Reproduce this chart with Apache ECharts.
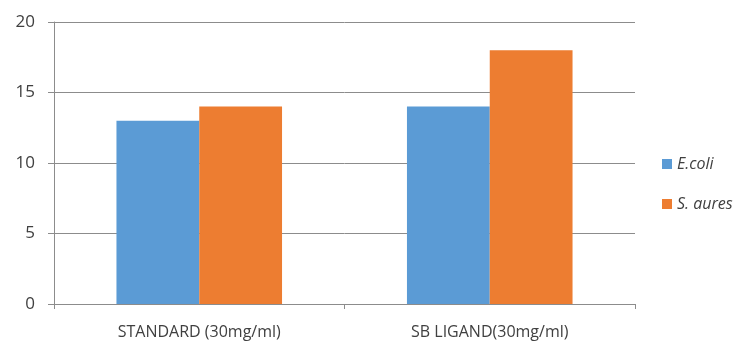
<!DOCTYPE html>
<html>
<head>
<meta charset="utf-8">
<script src="https://cdn.jsdelivr.net/npm/echarts@6/dist/echarts.min.js"></script>
<style>
  html, body { margin: 0; padding: 0; background: #fff; }
  #chart { width: 745px; height: 344px; }
</style>
</head>
<body>
<div id="chart"></div>
<script>
// Zone of inhibition values per sample
const categories = ['STANDARD (30mg/ml)', 'SB LIGAND(30mg/ml)'];
const ecoli = [13, 14];
const saures = [14, 18];
const yTicks = [0, 5, 10, 15, 20];

const chart = echarts.init(document.getElementById('chart'));
const axisGray = '#8c8c8c';
const textGray = '#595959';
const font = '"Open Sans", sans-serif';

chart.setOption({
  animation: false,
  grid: { left: 54, right: 110, top: 22, bottom: 40 },
  legend: {
    orient: 'vertical',
    left: 657,
    top: 151,
    itemWidth: 10,
    itemHeight: 10,
    itemGap: 24,
    icon: 'rect',
    textStyle: { fontFamily: font, fontSize: 16, fontStyle: 'italic', color: '#404040' },
    data: ['E.coli', 'S. aures']
  },
  xAxis: {
    type: 'category',
    data: categories,
    axisLine: { lineStyle: { color: axisGray, width: 1 } },
    axisTick: { show: true, length: 5, alignWithLabel: false, lineStyle: { color: axisGray } },
    axisLabel: { fontFamily: font, fontSize: 16, color: '#404040', margin: 20 }
  },
  yAxis: {
    type: 'value',
    min: yTicks[0],
    max: yTicks[yTicks.length - 1],
    interval: 5,
    axisLine: { show: true, lineStyle: { color: axisGray, width: 1 } },
    axisTick: { show: true, length: 6, lineStyle: { color: axisGray } },
    splitLine: { lineStyle: { color: axisGray, width: 1 } },
    axisLabel: { fontFamily: font, fontSize: 17, color: '#404040', margin: 19 }
  },
  series: [
    {
      name: 'E.coli',
      type: 'bar',
      data: ecoli,
      barGap: '0%',
      barCategoryGap: '43%',
      itemStyle: { color: '#5b9bd5' }
    },
    {
      name: 'S. aures',
      type: 'bar',
      data: saures,
      barGap: '0%',
      barCategoryGap: '43%',
      itemStyle: { color: '#ed7d31' }
    }
  ]
});
</script>
</body>
</html>
